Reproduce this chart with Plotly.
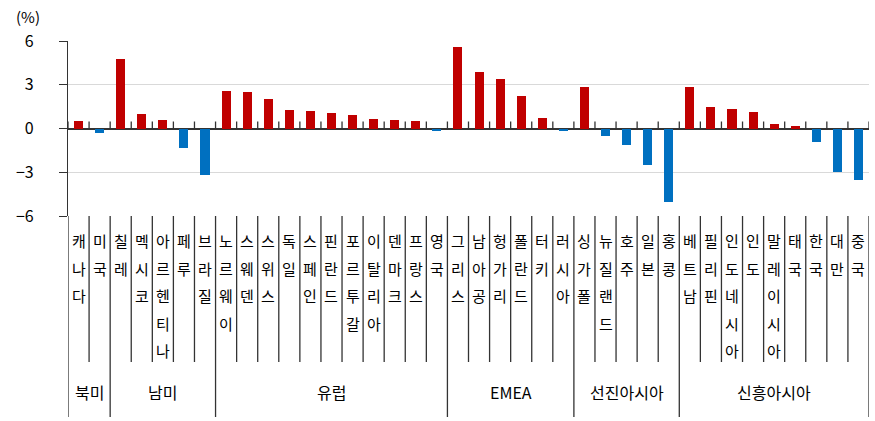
import plotly.graph_objects as go

# ---- data ----
groups = ["북미", "남미", "유럽", "EMEA", "선진아시아", "신흥아시아"]
group_countries = [
    ["캐나다", "미국"],
    ["칠레", "멕시코", "아르헨티나", "페루", "브라질"],
    ["노르웨이", "스웨덴", "스위스", "독일", "스페인", "핀란드", "포르투갈",
     "이탈리아", "덴마크", "프랑스", "영국"],
    ["그리스", "남아공", "헝가리", "폴란드", "터키", "러시아"],
    ["싱가폴", "뉴질랜드", "호주", "일본", "홍콩"],
    ["베트남", "필리핀", "인도네시아", "인도", "말레이시아", "태국", "한국", "대만", "중국"],
]
values = [
    0.5, -0.3,
    4.8, 1.0, 0.55, -1.35, -3.2,
    2.55, 2.47, 2.0, 1.3, 1.23, 1.07, 0.93, 0.62, 0.6, 0.5, -0.2,
    5.6, 3.9, 3.38, 2.2, 0.73, -0.2,
    2.88, -0.48, -1.16, -2.53, -5.05,
    2.88, 1.5, 1.37, 1.1, 0.32, 0.18, -0.9, -3.0, -3.56,
]
y_ticks = [-6, -3, 0, 3, 6]

countries = [c for g in group_countries for c in g]
n = len(countries)

RED = "#C00000"
BLUE = "#0070C0"
FONT = "Noto Sans CJK KR"
LINE = "#333333"

colors = [RED if v >= 0 else BLUE for v in values]

fig = go.Figure()
fig.add_trace(go.Bar(
    x=list(range(n)), y=values, marker_color=colors, width=0.43,
    marker_line_width=0, showlegend=False, hoverinfo="skip",
))

W, H = 875, 421
left, right = 68, 869
top, bottom = 41, 216
ph = bottom - top
pw = right - left


def pix_to_paper_y(py):
    return (bottom - py) / ph


def pix_to_paper_x(px):
    return (px - left) / pw


shapes = []
annotations = []

# group boundaries
bounds = [0]
for g in group_countries:
    bounds.append(bounds[-1] + len(g))

for b in range(n + 1):
    is_group = b in bounds
    y_end = 417 if is_group else 362
    shapes.append(dict(type="line", xref="x", yref="paper",
                       x0=b - 0.5, x1=b - 0.5, y0=0, y1=pix_to_paper_y(y_end),
                       line=dict(color=LINE, width=1.3)))
    # small ticks above zero line
    shapes.append(dict(type="line", xref="x", yref="y", ysizemode="pixel",
                       yanchor=0, x0=b - 0.5, x1=b - 0.5, y0=0, y1=7,
                       line=dict(color=LINE, width=1.3)))

# country labels (vertical, one character per line)
for i, c in enumerate(countries):
    for j, ch in enumerate(c):
        annotations.append(dict(
            x=i, y=pix_to_paper_y(240.5 + 27.5 * j), xref="x", yref="paper",
            text=ch, showarrow=False, xanchor="center", yanchor="middle",
            font=dict(family=FONT, size=15, color="black"),
        ))

# group labels
for gi, g in enumerate(groups):
    cx = (bounds[gi] + bounds[gi + 1]) / 2 - 0.5
    annotations.append(dict(
        x=cx, y=pix_to_paper_y(392), xref="x", yref="paper", text=g,
        showarrow=False, xanchor="center", yanchor="middle",
        font=dict(family=FONT, size=16, color="black"),
    ))

# unit label
annotations.append(dict(
    x=pix_to_paper_x(28), y=pix_to_paper_y(16), xref="paper", yref="paper",
    text="(%)", showarrow=False, xanchor="center", yanchor="middle",
    font=dict(family=FONT, size=15, color="black"),
))

fig.update_layout(
    width=W, height=H,
    margin=dict(l=left, r=W - right, t=top, b=H - bottom, pad=0),
    plot_bgcolor="white", paper_bgcolor="white",
    bargap=0,
    shapes=shapes, annotations=annotations,
    font=dict(family=FONT, size=15, color="black"),
)
fig.update_xaxes(range=[-0.5, n - 0.5], showticklabels=False, showgrid=False,
                 zeroline=False, showline=False, ticks="")
fig.update_yaxes(range=[-6, 6], tickvals=y_ticks,
                 ticktext=[str(t).replace("-", "−") for t in y_ticks],
                 showgrid=True, gridcolor="#D9D9D9", gridwidth=1.3,
                 zeroline=True, zerolinecolor=LINE, zerolinewidth=1.7,
                 showline=True, linecolor=LINE, linewidth=1.3,
                 ticks="outside", ticklen=8, tickcolor=LINE, tickwidth=1.3,
                 ticklabelstandoff=22,
                 tickfont=dict(family=FONT, size=16, color="black"))

fig.write_html(
    "out.html",
    config={"displayModeBar": False},
    post_script="document.body.style.margin='0';document.body.style.overflow='hidden';",
)
